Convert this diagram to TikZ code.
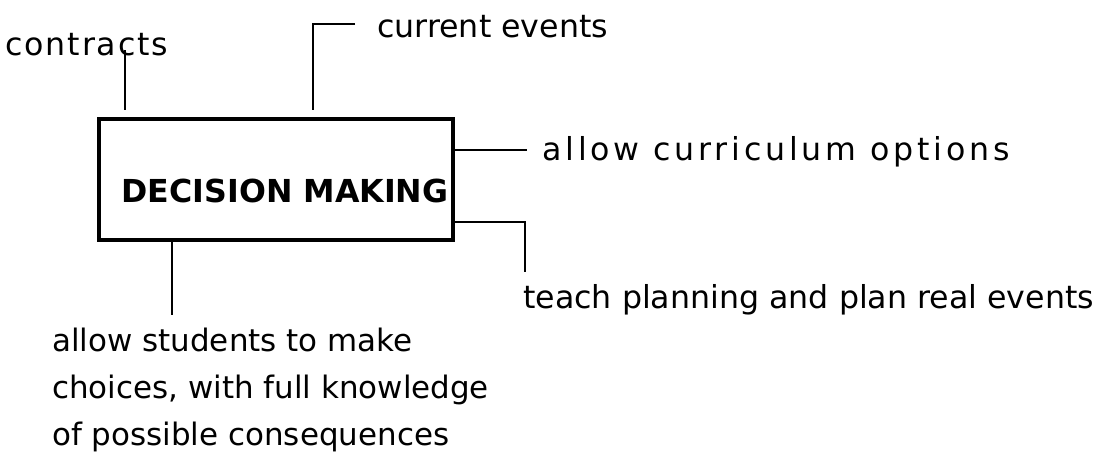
\documentclass[tikz,border=0pt]{standalone}
\usepackage{fontspec}
\setmainfont{DejaVu Sans}

\begin{document}
\begin{tikzpicture}[x=0.025cm,y=-0.025cm,
  every node/.style={inner sep=0pt,font=\fontsize{22.5}{33.4}\selectfont},
  lbl/.style={anchor=base west},
  tie/.style={line width=1.3pt}]
  \useasboundingbox (0,0) rectangle (1106,463);

  \node[draw,line width=3pt,minimum width=8.85cm,minimum height=3.03cm] (DM) at (276,179.5) {};
  \node[anchor=base,font=\fontsize{22.5}{25}\selectfont\bfseries] (DMt) at (285,202) {DECISION MAKING};

  \node[lbl] (Ctr) at (5,55) {\addfontfeatures{LetterSpace=6}contracts};
  \node[lbl] (Cur) at (377,37) {current events};
  \node[lbl] (Opt) at (542,160) {\addfontfeatures{LetterSpace=12}allow curriculum options};
  \node[lbl] (Plan) at (523,308) {teach planning and plan real events};
  \node[lbl,align=left,font=\fontsize{22}{33.4}\selectfont] (Choice) at (52,445)
    {allow students to make\\choices, with full knowledge\\of possible consequences};

  \coordinate (ctrTop) at (125,50);
  \coordinate (ctrEnd) at (125,110);
  \coordinate (curStart) at (355,24);
  \coordinate (curCorner) at (313,24);
  \coordinate (curEnd) at (313,110);
  \coordinate (optEnd) at (527,150);
  \coordinate (planCorner) at (525,222);
  \coordinate (planEnd) at (525,272);
  \coordinate (choiceEnd) at (172,315);

  \draw[tie] (ctrTop) -- (ctrEnd);
  \draw[tie] (curStart) -- (curCorner) -- (curEnd);
  \draw[tie] (DM.east |- optEnd) -- (optEnd);
  \draw[tie] (DM.east |- planCorner) -- (planCorner) -- (planEnd);
  \draw[tie] (DM.south -| choiceEnd) -- (choiceEnd);
\end{tikzpicture}
\end{document}
